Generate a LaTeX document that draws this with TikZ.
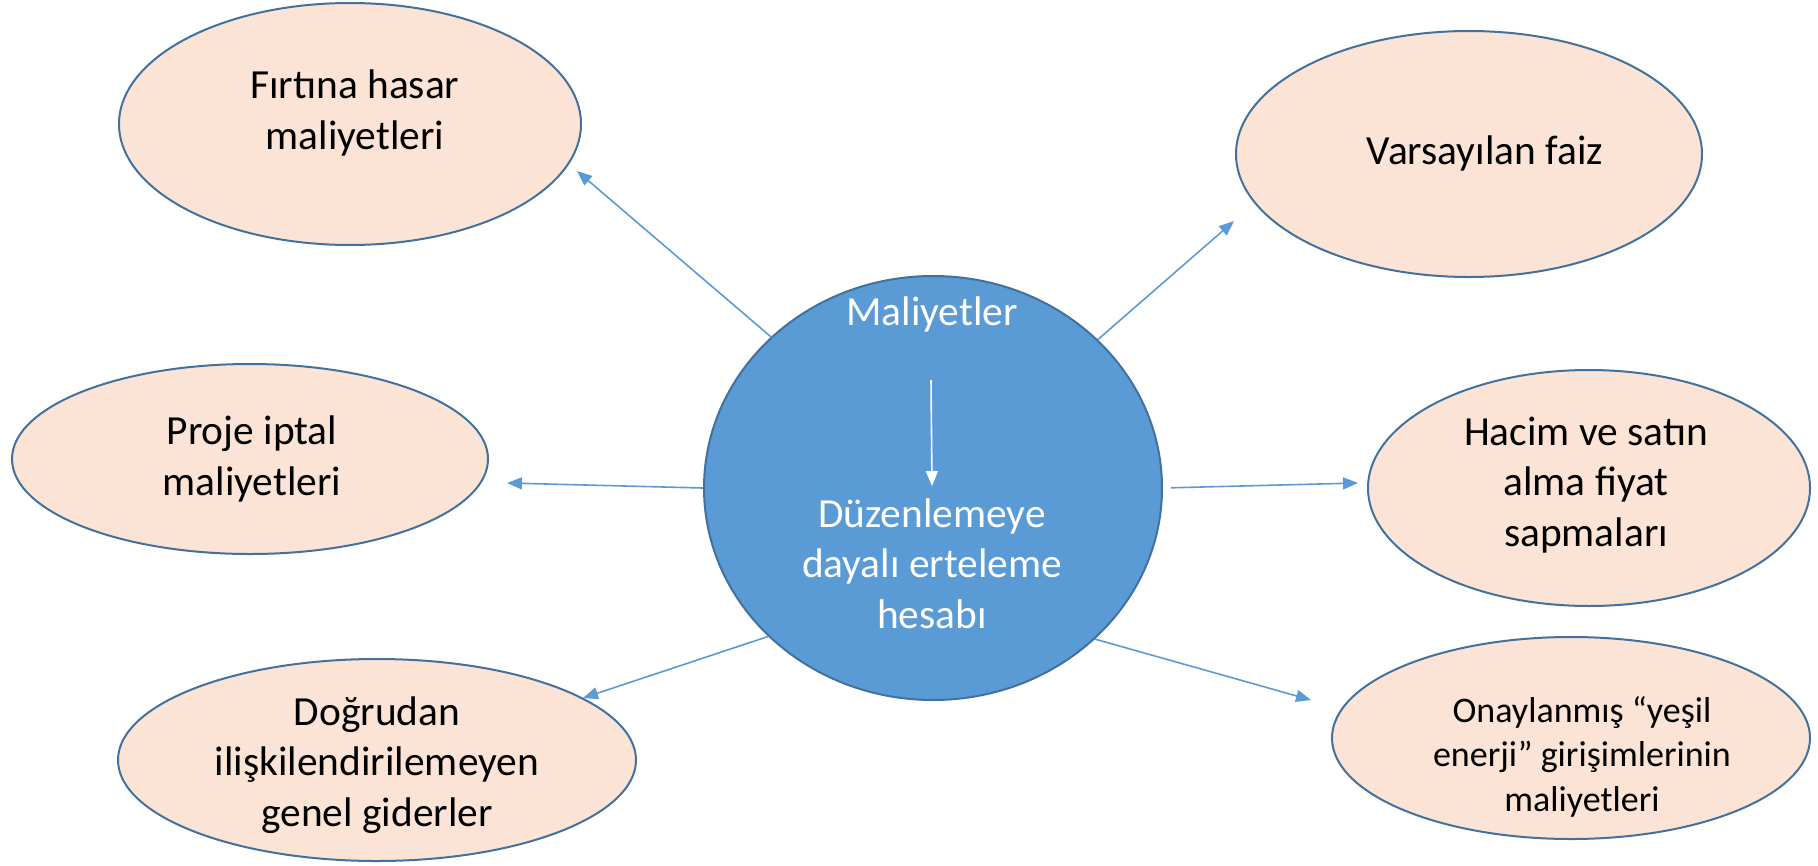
\documentclass[tikz,border=0pt]{standalone}
\usepackage{fontspec}
\setmainfont{Carlito}
\usetikzlibrary{shapes.geometric,arrows.meta}
\definecolor{peach}{RGB}{251,228,213}
\definecolor{edgeblue}{RGB}{65,113,156}
\definecolor{midblue}{RGB}{91,155,213}
\begin{document}
\begin{tikzpicture}[x=1pt,y=-1pt,
  oval/.style={ellipse, draw=edgeblue, fill=peach, line width=2pt, inner sep=0pt},
  hub/.style={ellipse, draw=edgeblue, fill=midblue, line width=2pt, inner sep=0pt},
  lbl/.style={align=center, font=\fontsize{41.4pt}{50.5pt}\selectfont, anchor=base, inner sep=0pt},
  smalllbl/.style={align=center, font=\fontsize{36pt}{44.5pt}\selectfont, anchor=base, inner sep=0pt},
  conn/.style={draw=midblue, line width=1.6pt, -{Triangle[length=15pt,width=12pt]}},
  inner/.style={draw=white, line width=1.6pt, -{Triangle[length=15pt,width=12pt]}}]
\useasboundingbox (0,0) rectangle (1818,865);
% satellites
\node[oval, minimum width=462pt, minimum height=242pt] (e1) at (350,124) {};
\node[oval, minimum width=466pt, minimum height=246pt] (e2) at (1469,154) {};
\node[oval, minimum width=476pt, minimum height=190pt] (e3) at (250,459) {};
\node[oval, minimum width=442pt, minimum height=236pt] (e4) at (1589,488) {};
\node[oval, minimum width=518pt, minimum height=202pt] (e5) at (377,760) {};
\node[oval, minimum width=478pt, minimum height=202pt] (e6) at (1571,738) {};
% hub
\node[hub, minimum width=458pt, minimum height=424pt] (c) at (933,488) {};
% texts
\node[lbl] (t1) at (355,149) {Fırtına hasar\\maliyetleri};
\node[lbl] (t2) at (1485,164) {Varsayılan faiz};
\node[lbl] (t3) at (252,495) {Proje iptal\\maliyetleri};
\node[lbl] (t4) at (1586,546) {Hacim ve satın\\alma fiyat\\sapmaları};
\node[lbl] (t5) at (377,826) {Doğrudan\\ilişkilendirilemeyen\\genel giderler};
\node[smalllbl] (t6) at (1582,811) {Onaylanmış “yeşil\\enerji” girişimlerinin\\maliyetleri};
\node[lbl, text=white] (tm) at (932,325) {Maliyetler};
\node[lbl, text=white] (td) at (932,628) {Düzenlemeye\\dayalı erteleme\\hesabı};
% connector ends
\coordinate (a1) at (577,171);
\coordinate (a2) at (1234,221);
\coordinate (a3) at (507,483);
\coordinate (a4) at (1358,483);
\coordinate (a5) at (583,698);
\coordinate (a6) at (1311,700);
\coordinate (w1) at (931,380);
\coordinate (w2) at (932,486);
% connectors
\draw[conn] (c.137.6) -- (a1);
\draw[conn] (c.42.6) -- (a2);
\draw[conn] (c.180.5) -- (a3);
\draw[conn, shorten <=8pt] (c.0) -- (a4);
\draw[conn] (c.222.6) -- (a5);
\draw[conn] (c.317.4) -- (a6);
\draw[inner] (w1) -- (w2);
\end{tikzpicture}
\end{document}
